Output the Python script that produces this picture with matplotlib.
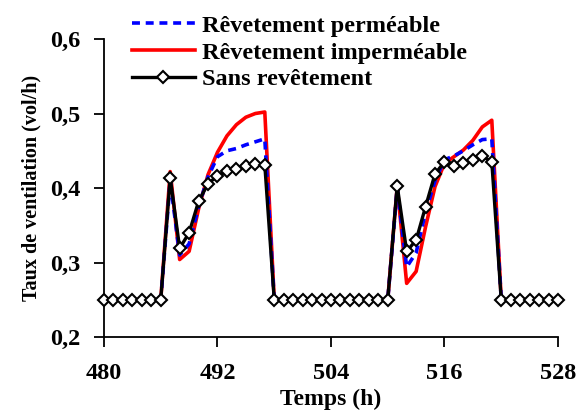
import matplotlib
matplotlib.use("Agg")
import matplotlib.pyplot as plt
import numpy as np

hours = list(range(480, 529))

base = 0.25
# Values (vol/h), one per hour
perm_hump1 = [0.410, 0.310, 0.325, 0.375, 0.415, 0.442, 0.450, 0.453, 0.458, 0.462, 0.466]
imp_hump1 = [0.422, 0.304, 0.315, 0.372, 0.418, 0.448, 0.470, 0.485, 0.495, 0.500, 0.502]
sans_hump1 = [0.414, 0.319, 0.340, 0.382, 0.406, 0.416, 0.423, 0.426, 0.429, 0.432, 0.431]

perm_hump2 = [0.400, 0.294, 0.313, 0.368, 0.410, 0.438, 0.443, 0.450, 0.458, 0.465, 0.466]
imp_hump2 = [0.402, 0.272, 0.288, 0.348, 0.402, 0.433, 0.442, 0.451, 0.464, 0.482, 0.491]
sans_hump2 = [0.403, 0.315, 0.330, 0.375, 0.419, 0.435, 0.429, 0.433, 0.438, 0.443, 0.435]

def series(h1, h2):
    # 480-486 base, 487-497 hump1, 498-510 base, 511-521 hump2, 522-528 base
    return [base] * 7 + h1 + [base] * 13 + h2 + [base] * 7

permeable = series(perm_hump1, perm_hump2)
impermeable = series(imp_hump1, imp_hump2)
sans = series(sans_hump1, sans_hump2)

x_ticks = [480, 492, 504, 516, 528]
y_ticks = [0.2, 0.3, 0.4, 0.5, 0.6]
y_tick_labels = ["0,2", "0,3", "0,4", "0,5", "0,6"]

plt.rcParams['font.family'] = ['Liberation Serif', 'DejaVu Serif']
plt.rcParams['font.weight'] = 'bold'

fig = plt.figure(figsize=(5.84, 4.12), dpi=100)
ax = fig.add_axes([104/584, 1-337/412, (558-104)/584, (337-39)/412])

ax.plot(hours, impermeable, color='#ff0000', lw=2.6, label='Rêvetement imperméable', zorder=2)
ax.plot(hours, permeable, color='#0000ff', lw=2.6, ls=(0, (2.2, 1.6)), label='Rêvetement perméable', zorder=3)
ax.plot(hours, sans, color='black', lw=2.4, marker='D', markersize=6.5,
        markerfacecolor='white', markeredgecolor='black', markeredgewidth=1.5,
        label='Sans revêtement', zorder=4, clip_on=False)

ax.set_xlim(480, 528)
ax.set_ylim(0.2, 0.6)
ax.set_xticks(x_ticks)
ax.set_xticklabels([str(t) for t in x_ticks])
ax.set_yticks(y_ticks)
ax.set_yticklabels(y_tick_labels)
for s in ['top', 'right']:
    ax.spines[s].set_visible(False)
for s in ['left', 'bottom']:
    ax.spines[s].set_linewidth(1.3)
ax.tick_params(direction='out', length=7, width=1.3, labelsize=17.5)
ax.tick_params(axis='x', pad=12)
ax.tick_params(axis='y', pad=10)

ax.set_xlabel('Temps (h)', fontsize=17, fontweight='bold', labelpad=3)
ax.set_ylabel('Taux de ventilation (vol/h)', fontsize=14.5, fontweight='bold', labelpad=6)

handles, labels = ax.get_legend_handles_labels()
order = [1, 0, 2]
leg = fig.legend([handles[i] for i in order], [labels[i] for i in order],
                 loc='upper left', bbox_to_anchor=(122/584, 1 - 5/412), frameon=False,
                 fontsize=17.5, handlelength=2.6, handletextpad=0.3, labelspacing=0.2,
                 borderaxespad=0.0)

fig.savefig('out.png', dpi=100)
